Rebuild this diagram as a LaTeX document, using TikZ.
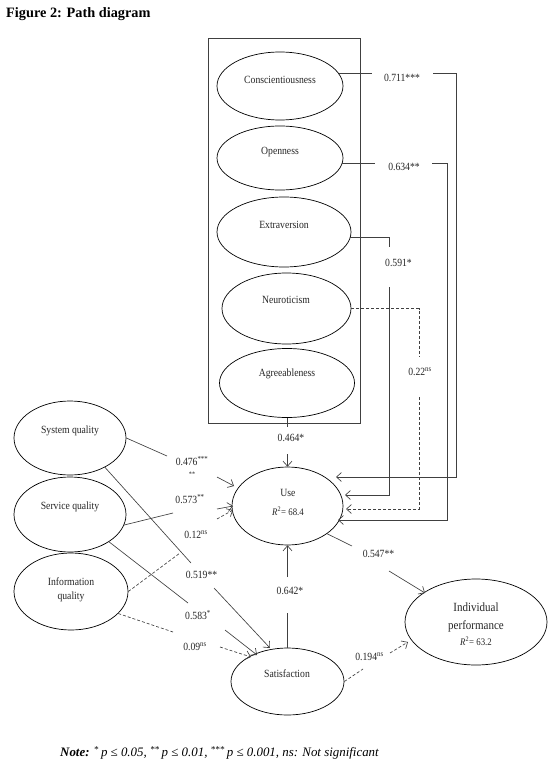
\documentclass[tikz,border=0pt]{standalone}
\usepackage{fontspec}
\setmainfont{Liberation Serif}[FakeStretch=0.88]
\newfontfamily\titlefont{Liberation Serif}
\usetikzlibrary{shapes.geometric,arrows.meta}
\begin{document}
\begin{tikzpicture}[x=1pt,y=-1pt,
  ell/.style={draw=black,ellipse,inner sep=0pt,line width=0.7pt},
  txt/.style={inner sep=0pt,text=black!85,font=\fontsize{11}{13}\selectfont},
  lab/.style={inner sep=0pt,text=black!85,font=\fontsize{11}{13}\selectfont},
  con/.style={draw=black!75,line width=0.65pt},
  arr/.style={con,-{Straight Barb[length=5pt,width=9pt]}},
  dsh/.style={dash pattern=on 3pt off 2pt}]
\useasboundingbox[fill=white] (0,0) rectangle (559,770);

% title
\node[anchor=west,inner sep=0pt,font=\titlefont\bfseries\fontsize{14.3}{16}\selectfont] (title) at (6,14) {Figure 2: Path diagram};

% personality box
\node[draw=black!75,line width=0.65pt,minimum width=152pt,minimum height=385pt,inner sep=0pt] (box) at (284.5,230.5) {};

% ellipses
\node[ell,minimum width=126pt,minimum height=68pt] (consc) at (280,86) {};
\node[txt] (tconsc) at (280,80) {Conscientiousness};
\node[ell,minimum width=126pt,minimum height=64pt] (open) at (280,158) {};
\node[txt] (topen) at (280,152) {Openness};
\node[ell,minimum width=134pt,minimum height=70pt] (extra) at (284,232) {};
\node[txt] (textra) at (284,225) {Extraversion};
\node[ell,minimum width=129pt,minimum height=71pt] (neuro) at (286.5,308.5) {};
\node[txt] (tneuro) at (286,300) {Neuroticism};
\node[ell,minimum width=135pt,minimum height=69pt] (agree) at (287,383) {};
\node[txt] (tagree) at (287,374) {Agreeableness};

\node[ell,minimum width=112pt,minimum height=74pt] (sys) at (70,438) {};
\node[txt] (tsys) at (70,431) {System quality};
\node[ell,minimum width=112pt,minimum height=75pt] (serv) at (70,514.5) {};
\node[txt] (tserv) at (70,507) {Service quality};
\node[ell,minimum width=114pt,minimum height=77pt] (info) at (71,591.5) {};
\node[txt,align=center] (tinfo) at (71,590) {Information\\[1pt]quality};

\node[ell,minimum width=111pt,minimum height=78pt] (use) at (287.5,506) {};
\node[txt] (tuse) at (288,493) {Use};
\node[txt,font=\fontsize{10}{12}\selectfont] (ruse) at (288,511) {\textit{R}\textsuperscript{2}= 68.4};

\node[ell,minimum width=113pt,minimum height=67pt] (sat) at (287.5,681.5) {};
\node[txt] (tsat) at (287,674) {Satisfaction};

\node[ell,minimum width=142pt,minimum height=86pt] (ind) at (476,622) {};
\node[txt,align=center,font=\fontsize{12.5}{18}\selectfont] (tind) at (476,617) {Individual\\performance};
\node[txt,font=\fontsize{10}{12}\selectfont] (rind) at (476,641) {\textit{R}\textsuperscript{2}= 63.2};

% labels
\node[lab] (l711) at (402,78) {0.711***};
\node[lab] (l634) at (404,167) {0.634**};
\node[lab] (l591) at (398.5,263) {0.591*};
\node[lab] (l22) at (420,372) {0.22\textsuperscript{ns}};
\node[lab] (l464) at (291,438) {0.464*};
\node[lab] (l476) at (192,461) {0.476\textsuperscript{***}};
\node[lab,font=\fontsize{7}{8}\selectfont] (lst) at (192,474) {**};
\node[lab] (l573) at (190,499) {0.573\textsuperscript{**}};
\node[lab] (l12) at (196,535) {0.12\textsuperscript{ns}};
\node[lab] (l519) at (201.5,575) {0.519**};
\node[lab] (l583) at (198,615) {0.583\textsuperscript{*}};
\node[lab] (l09) at (195,647) {0.09\textsuperscript{ns}};
\node[lab] (l642) at (290,591) {0.642*};
\node[lab] (l547) at (378.5,554) {0.547**};
\node[lab] (l194) at (369.5,657) {0.194\textsuperscript{ns}};

% break points
\coordinate (a1) at (372,74);   \coordinate (a2) at (433,74);
\coordinate (k1) at (456,477);  \coordinate (e1) at (336,477);
\coordinate (b1) at (375,163);  \coordinate (b2) at (432,163);
\coordinate (k2) at (447,520);  \coordinate (e2) at (338,520);
\coordinate (x1) at (389,247);  \coordinate (x2) at (389,287);
\coordinate (k3) at (389,495);  \coordinate (e3) at (345,495);
\coordinate (n1) at (419,357);  \coordinate (n2) at (419,397);
\coordinate (e4) at (346,509);
\coordinate (g1) at (287,427);  \coordinate (g2) at (287.5,454);
\coordinate (s1) at (167,456);  \coordinate (s1b) at (217,477); \coordinate (s1e) at (234,486);
\coordinate (v1) at (173,513);  \coordinate (v1b) at (217,509); \coordinate (v1e) at (233,506);
\coordinate (i1) at (180,553);  \coordinate (i1b) at (217,519); \coordinate (i1e) at (233,510);
\coordinate (s2) at (191,563);  \coordinate (s2b) at (214,588); \coordinate (s2e) at (270,648);
\coordinate (v2) at (188,603);  \coordinate (v2b) at (225,630); \coordinate (v2e) at (257,655);
\coordinate (i2) at (173,632);  \coordinate (i2b) at (220,647); \coordinate (i2e) at (251,657);
\coordinate (t1) at (287.5,613); \coordinate (t1b) at (287.5,577);
\coordinate (w1) at (352,546);  \coordinate (w1b) at (389,571); \coordinate (w1e) at (425,593);
\coordinate (z1) at (363,669);  \coordinate (z1b) at (390,653); \coordinate (z1e) at (408,642);

% right connectors
\draw[con] (consc.12) -- (consc.12 -| a1);
\draw[arr] (consc.12 -| a2) -| (k1) -- (e1);
\draw[con] (open.-5) -- (open.-5 -| b1);
\draw[arr] (open.-5 -| b2) -| (k2) -- (e2);
\draw[con] (extra.-5) -| (x1);
\draw[arr] (x2) -- (k3) -- (e3);
\draw[con,dsh] (neuro.east) -| (n1);
\draw[arr,dsh] (n2) |- (e4);
\draw[con] (agree.south) -- (g1);
\draw[arr] (g2) -- (use.north);

% left connectors
\draw[con] (sys.east) -- (s1);
\draw[arr] (s1b) -- (s1e);
\draw[con] (serv.-11) -- (v1);
\draw[arr] (v1b) -- (v1e);
\draw[con,dsh] (info.east) -- (i1);
\draw[arr,dsh] (i1b) -- (i1e);
\draw[con] (sys.-40) -- (s2);
\draw[arr] (s2b) -- (s2e);
\draw[con] (serv.-35) -- (v2);
\draw[arr] (v2b) -- (v2e);
\draw[con,dsh] (info.-25) -- (i2);
\draw[arr,dsh] (i2b) -- (i2e);

% lower connectors
\draw[con] (sat.north) -- (t1);
\draw[arr] (t1b) -- (use.south);
\draw[con] (use.-35) -- (w1);
\draw[arr] (w1b) -- (w1e);
\draw[con,dsh] (sat.east) -- (z1);
\draw[arr,dsh] (z1b) -- (z1e);

% note
\node[anchor=west,inner sep=0pt,font=\titlefont\itshape\fontsize{12.9}{15}\selectfont] (note) at (60,753)
  {\textbf{Note:} \textsuperscript{*}\,p ≤ 0.05, \textsuperscript{**}\,p ≤ 0.01, \textsuperscript{***}\,p ≤ 0.001, ns: Not significant};
\end{tikzpicture}
\end{document}
